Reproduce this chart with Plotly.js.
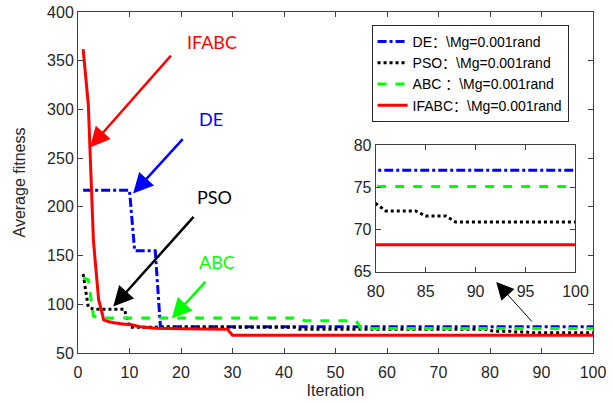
<!DOCTYPE html>
<html>
<head>
<meta charset="utf-8">
<script src="https://cdn.plot.ly/plotly-3.0.1.min.js"></script>
<style>html,body{margin:0;padding:0;background:#fff}#chart{width:613px;height:403px}</style>
</head>
<body>
<div id="chart"></div>
<script>
// Series (x: iteration, y: average fitness)
var deX    = [1, 10, 11, 15, 16, 100];
var deY    = [217, 217, 155, 155, 77, 77];
var psoX   = [1, 2, 3, 9, 10, 42, 43, 79, 80, 81, 84, 85, 87, 88, 100];
var psoY   = [131, 97, 95, 95, 76.5, 76.5, 74.5, 74.5, 73.1, 72.2, 72.2, 71.6, 71.6, 70.9, 70.9];
var abcX   = [1, 2, 3, 4, 43, 44, 54, 55, 100];
var abcY   = [127, 125, 88, 86, 86, 83, 83, 75.1, 75.1];
var ifabcX = [1, 2, 3, 4, 5, 6, 7, 8, 9, 10, 11, 12, 13, 14, 15, 20, 28, 29, 30, 100];
var ifabcY = [362, 305, 165, 105, 84, 82, 81, 80, 79.5, 79.5, 78, 77, 76.5, 76, 75.5, 75, 75, 74.5, 68.2, 68.2];

var names = ["DE\uFF1A\\Mg=0.001rand", "PSO\uFF1A\\Mg=0.001rand", "ABC \uFF1A\\Mg=0.001rand", "IFABC\uFF1A\\Mg=0.001rand"];
var xTicks = [0, 10, 20, 30, 40, 50, 60, 70, 80, 90, 100];
var yTicks = [50, 100, 150, 200, 250, 300, 350, 400];
var insetXTicks = [80, 85, 90, 95, 100];
var insetYTicks = [65, 70, 75, 80];

var series = [
  {x: deX, y: deY, color: "#0000ff", dash: "dashdot"},
  {x: psoX, y: psoY, color: "#000000", dash: "dot"},
  {x: abcX, y: abcY, color: "#00ff00", dash: "dash"},
  {x: ifabcX, y: ifabcY, color: "#ff0000", dash: "solid"}
];

var traces = [];
series.forEach(function (s, i) {
  traces.push({x: s.x, y: s.y, name: names[i], type: "scatter", mode: "lines",
    line: {color: s.color, dash: s.dash, width: 3}, xaxis: "x", yaxis: "y"});
});
series.forEach(function (s, i) {
  traces.push({x: s.x, y: s.y, name: names[i], type: "scatter", mode: "lines", showlegend: false,
    line: {color: s.color, dash: s.dash, width: 3}, xaxis: "x2", yaxis: "y2"});
});

var tickFont = {family: "Liberation Sans, Arial, sans-serif", size: 16, color: "#262626"};
var axisCommon = {showgrid: false, zeroline: false, showline: true, linecolor: "#404040", linewidth: 1,
  mirror: "allticks", ticks: "inside", ticklen: 5, tickcolor: "#404040", tickfont: tickFont};

var annFont = "Lato, 'Open Sans', sans-serif";
function arrow(hx, hy, tx, ty, color) {
  return {x: hx, y: hy, ax: tx, ay: ty, xref: "x", yref: "y", axref: "x", ayref: "y",
    showarrow: true, arrowhead: 2, arrowsize: 1.6, arrowwidth: 2.5, arrowcolor: color, text: ""};
}
function label(x, y, t, color) {
  return {x: x, y: y, xref: "x", yref: "y", text: t, showarrow: false,
    font: {family: annFont, size: 18, color: color}};
}

var layout = {
  width: 613, height: 403,
  margin: {l: 78, r: 20, t: 12, b: 50},
  paper_bgcolor: "#fff", plot_bgcolor: "#fff",
  showlegend: true,
  legend: {x: 0.57, y: 0.962, xanchor: "left", yanchor: "top", bgcolor: "#fff",
    bordercolor: "#262626", borderwidth: 1,
    font: {family: "Liberation Sans, Arial, 'Noto Sans CJK SC', sans-serif", size: 14, color: "#000"},
    tracegroupgap: 0},
  xaxis: Object.assign({}, axisCommon, {range: [0, 100], tickvals: xTicks, ticklabelstandoff: 5,
    title: {text: "Iteration", font: {family: "Liberation Sans, Arial, sans-serif", size: 16, color: "#262626"}, standoff: 4}}),
  yaxis: Object.assign({}, axisCommon, {range: [50, 400], tickvals: yTicks,
    title: {text: "Average fitness", font: {family: "Liberation Sans, Arial, sans-serif", size: 16, color: "#262626"}, standoff: 17}}),
  xaxis2: Object.assign({}, axisCommon, {domain: [0.578, 0.966], anchor: "y2", range: [80, 100],
    tickvals: insetXTicks, ticklabelstandoff: 5}),
  yaxis2: Object.assign({}, axisCommon, {domain: [0.238, 0.61], anchor: "x2", range: [65, 80],
    tickvals: insetYTicks}),
  annotations: [
    arrow(2.33, 261, 18.3, 356.7, "#ff0000"),
    arrow(10.7, 213.7, 20.6, 271.1, "#0000ff"),
    arrow(6.85, 97.6, 22.7, 191.3, "#000000"),
    arrow(18.2, 85.3, 25, 124.6, "#00ff00"),
    {x: 81.2, y: 122.9, ax: 88.4, ay: 80.8, xref: "x", yref: "y", axref: "x", ayref: "y",
      showarrow: true, arrowhead: 2, arrowsize: 3.5, arrowwidth: 1, arrowcolor: "#000", text: ""},
    label(26, 369, "IFABC", "#ff0000"),
    label(25.8, 289.8, "DE", "#0000ff"),
    label(26.5, 209.9, "PSO", "#000000"),
    label(27, 143, "ABC", "#00ff00")
  ]
};

Plotly.newPlot("chart", traces, layout, {displayModeBar: false, staticPlot: true});
</script>
</body>
</html>
